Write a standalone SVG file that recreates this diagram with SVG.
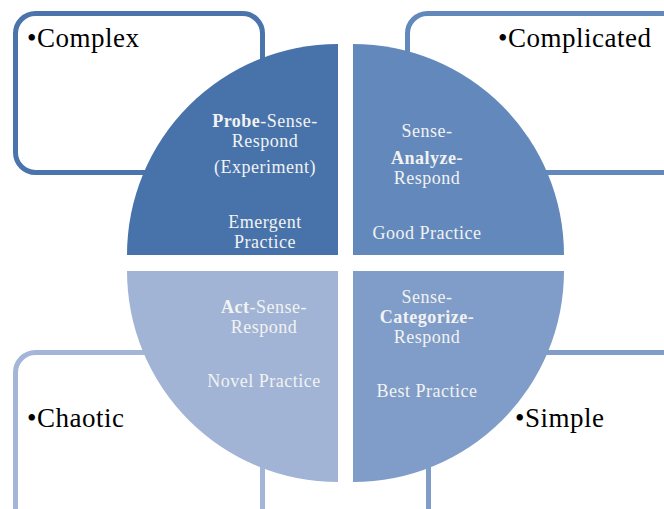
<svg xmlns="http://www.w3.org/2000/svg" width="664" height="509" viewBox="0 0 664 509">
<style>
.box{fill:#fff;stroke-width:5}
.lbl{font-family:"Liberation Serif","Times New Roman",serif;font-size:27px;letter-spacing:0.5px;fill:#000}
.in{font-family:"Liberation Serif","Times New Roman",serif;font-size:18px;letter-spacing:0.5px;fill:#f2f2f2;text-anchor:middle}
.b{font-weight:bold}
</style>
<rect width="664" height="509" fill="#fff"/>
<g id="box-complex"><rect class="box" x="15.5" y="13.5" width="247" height="159" rx="20" stroke="#4a74ab"/><text class="lbl" x="27" y="47">•Complex</text></g>
<g id="box-complicated"><rect class="box" x="407.5" y="13.5" width="300" height="159" rx="20" stroke="#6389bc"/><text class="lbl" x="498" y="47">•Complicated</text></g>
<g id="box-chaotic"><rect class="box" x="15.5" y="352.5" width="247" height="200" rx="20" stroke="#a3b6d7"/><text class="lbl" x="27" y="427">•Chaotic</text></g>
<g id="box-simple"><rect class="box" x="428.5" y="352.5" width="300" height="200" rx="20" stroke="#7f9dc8"/><text class="lbl" x="515" y="427">•Simple</text></g>
<g id="q-complex"><path d="M338,255 L127,255 A211,211 0 0 1 338,44 Z" fill="#4773aa"/>
<text class="in" x="265" y="127"><tspan class="b">Probe</tspan>-Sense-</text>
<text class="in" x="265" y="147">Respond</text>
<text class="in" x="265" y="173">(Experiment)</text>
<text class="in" x="265" y="228">Emergent</text>
<text class="in" x="265" y="248">Practice</text></g>
<g id="q-complicated"><path d="M353,255 L353,44 A211,211 0 0 1 564,255 Z" fill="#6389bc"/>
<text class="in" x="427" y="137">Sense-</text>
<text class="in b" x="427" y="164">Analyze-</text>
<text class="in" x="427" y="184">Respond</text>
<text class="in" x="427" y="239">Good Practice</text></g>
<g id="q-chaotic"><path d="M338,271 L338,482 A211,211 0 0 1 127,271 Z" fill="#a1b4d5"/>
<text class="in" x="264" y="313"><tspan class="b">Act</tspan>-Sense-</text>
<text class="in" x="264" y="333">Respond</text>
<text class="in" x="264" y="387">Novel Practice</text></g>
<g id="q-simple"><path d="M353,271 L564,271 A211,211 0 0 1 353,482 Z" fill="#7f9dc8"/>
<text class="in" x="427" y="303">Sense-</text>
<text class="in b" x="427" y="323">Categorize-</text>
<text class="in" x="427" y="343">Respond</text>
<text class="in" x="427" y="397">Best Practice</text></g>
<g id="connectors"></g>
</svg>
